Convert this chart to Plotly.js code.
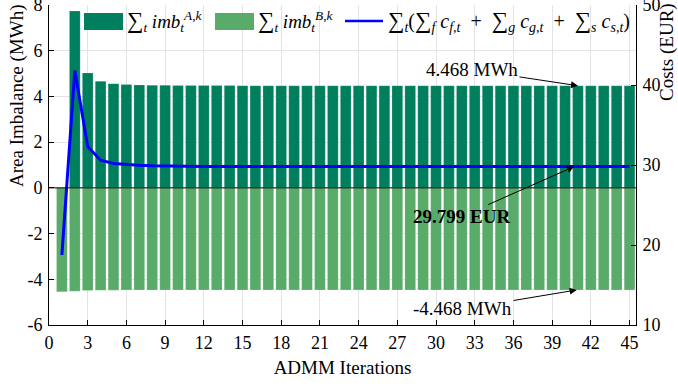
<!DOCTYPE html>
<html>
<head>
<meta charset="utf-8">
<script src="https://cdn.plot.ly/plotly-3.0.1.min.js"></script>
<style>html,body{margin:0;padding:0;background:#fff;}#chart{width:678px;height:387px;}</style>
</head>
<body>
<div id="chart"></div>
<script>
// ---- data ----
const iterations = [1,2,3,4,5,6,7,8,9,10,11,12,13,14,15,16,17,18,19,20,21,22,23,24,25,26,27,28,29,30,31,32,33,34,35,36,37,38,39,40,41,42,43,44,45];
const imbA = [0, 7.74, 5.03, 4.66, 4.56, 4.52, 4.50, 4.49, 4.485, 4.481, 4.478, 4.476, 4.474, 4.473, 4.472, 4.471, 4.470, 4.470, 4.469, 4.469, 4.469, 4.468, 4.468, 4.468, 4.468, 4.468, 4.468, 4.468, 4.468, 4.468, 4.468, 4.468, 4.468, 4.468, 4.468, 4.468, 4.468, 4.468, 4.468, 4.468, 4.468, 4.468, 4.468, 4.468, 4.468];
const imbB = [-4.55, -4.52, -4.49, -4.48, -4.475, -4.472, -4.470, -4.470, -4.469, -4.469, -4.469, -4.468, -4.468, -4.468, -4.468, -4.468, -4.468, -4.468, -4.468, -4.468, -4.468, -4.468, -4.468, -4.468, -4.468, -4.468, -4.468, -4.468, -4.468, -4.468, -4.468, -4.468, -4.468, -4.468, -4.468, -4.468, -4.468, -4.468, -4.468, -4.468, -4.468, -4.468, -4.468, -4.468, -4.468];
const costs = [18.75, 41.8, 32.3, 30.6, 30.2, 30.04, 29.96, 29.9, 29.86, 29.84, 29.82, 29.81, 29.81, 29.80, 29.80, 29.80, 29.80, 29.80, 29.80, 29.80, 29.80, 29.80, 29.80, 29.799, 29.799, 29.799, 29.799, 29.799, 29.799, 29.799, 29.799, 29.799, 29.799, 29.799, 29.799, 29.799, 29.799, 29.799, 29.799, 29.799, 29.799, 29.799, 29.799, 29.799, 29.799];
const xTickVals = [0,3,6,9,12,15,18,21,24,27,30,33,36,39,42,45];
const yTickVals = [-6,-4,-2,0,2,4,6,8];
const yTickText = ['-6','-4','-2','0','2','4','6','8'];
const y2TickVals = [10,20,30,40,50];
const S = '<span style="font-size:23px">∑</span>';
const NB = '\u00A0';
const legendNames = [
  S + '<sub><i>t</i></sub> <i>imb</i><sub><i>t</i></sub><sup><i>A</i>,<i>k</i></sup>',
  S + '<sub><i>t</i></sub> <i>imb</i><sub><i>t</i></sub><sup><i>B</i>,<i>k</i></sup>',
  S + '<sub><i>t</i></sub>(' + S + '<sub><i>f</i></sub> <i>c</i><sub><i>f,t</i></sub>' + NB + ' +' + NB + ' ' + S + '<sub><i>g</i></sub> <i>c</i><sub><i>g,t</i></sub>' + NB + ' +' + NB + ' ' + S + '<sub><i>s</i></sub> <i>c</i><sub><i>s,t</i></sub>)'
];
const annoPoint = {iter: 41, imbA: 4.468, imbB: -4.468, cost: 29.799};

// ---- style ----
const FONT = 'Liberation Serif, Times New Roman, Times, serif';
const cA = '#007F5F', cB = '#58AB69', cLine = '#0000FF';

const traces = [
  {type:'bar', x: iterations, y: imbA, name: legendNames[0], marker:{color:cA, line:{color:'rgba(255,255,255,0.35)', width:0.5}}, width:0.83, showlegend:false},
  {type:'bar', x: iterations, y: imbB, name: legendNames[1], marker:{color:cB, line:{color:'rgba(255,255,255,0.35)', width:0.5}}, width:0.83, showlegend:false},
  {type:'scatter', mode:'lines', x: iterations, y: costs, yaxis:'y2', name: legendNames[2], line:{color:cLine, width:3}, showlegend:false}
];

// custom legend (paper coordinates)
const pw = 587, ph = 320;
function px(x){return (x-49)/pw;}
function py(y){return (325-y)/ph;}

const layout = {
  width:678, height:387,
  margin:{l:49, r:42, t:5, b:62, pad:0},
  paper_bgcolor:'#fff', plot_bgcolor:'#fff',
  font:{family:FONT, size:17, color:'#000'},
  barmode:'overlay',
  showlegend:false,
  xaxis:{
    range:[0,45.5], tickvals:xTickVals, ticks:'inside', ticklen:5, tickcolor:'#000',
    showline:true, linecolor:'#000', linewidth:1,
    showgrid:true, gridcolor:'#e3e3e3', gridwidth:1, zeroline:false,
    tickfont:{family:FONT, size:18, color:'#000'}, ticklabelstandoff:1, ticklabeloverflow:'allow',
    title:{text:'ADMM Iterations', font:{family:FONT, size:19, color:'#000'}, standoff:9}
  },
  yaxis:{
    range:[-6,8], tickvals:yTickVals, ticktext:yTickText, ticks:'inside', ticklen:5, tickcolor:'#000',
    showline:true, linecolor:'#000', linewidth:1,
    showgrid:true, gridcolor:'#e3e3e3', gridwidth:1, zeroline:false,
    tickfont:{family:FONT, size:18, color:'#000'}, ticklabeloverflow:'allow', ticklabelstandoff:2
  },
  yaxis2:{
    range:[10,50], tickvals:y2TickVals, overlaying:'y', side:'right', ticks:'inside', ticklen:5, tickcolor:'#000',
    showline:true, linecolor:'#000', linewidth:1, showgrid:false, zeroline:false,
    tickfont:{family:FONT, size:18, color:'#000'}, ticklabeloverflow:'allow', ticklabelstandoff:2
  },
  shapes:[
    {type:'line', xref:'paper', x0:0, x1:1, yref:'y', y0:0, y1:0, line:{color:'#000', width:1}, layer:'above'},
    {type:'rect', xref:'paper', yref:'paper', x0:px(84), x1:px(123), y0:py(30), y1:py(13), fillcolor:cA, line:{width:0}},
    {type:'rect', xref:'paper', yref:'paper', x0:px(215), x1:px(254), y0:py(30), y1:py(13), fillcolor:cB, line:{width:0}},
    {type:'line', xref:'paper', yref:'paper', x0:px(345), x1:px(383), y0:py(21), y1:py(21), line:{color:cLine, width:2.5}}
  ],
  annotations:[
    {xref:'paper', yref:'paper', x:px(125), y:py(21), xanchor:'left', yanchor:'middle', text:legendNames[0], showarrow:false, font:{family:FONT, size:19}},
    {xref:'paper', yref:'paper', x:px(256), y:py(21), xanchor:'left', yanchor:'middle', text:legendNames[1], showarrow:false, font:{family:FONT, size:19}},
    {xref:'paper', yref:'paper', x:px(386), y:py(21), xanchor:'left', yanchor:'middle', text:legendNames[2], showarrow:false, font:{family:FONT, size:20}},
    {xref:'paper', yref:'paper', x:px(17), y:py(96), text:'Area Imbalance (MWh)', textangle:-90, showarrow:false, font:{family:FONT, size:19}, xanchor:'center', yanchor:'middle'},
    {xref:'paper', yref:'paper', x:px(667), y:py(52), text:'Costs (EUR)', textangle:-90, showarrow:false, font:{family:FONT, size:19}, xanchor:'center', yanchor:'middle'},
    {x:annoPoint.iter, y:annoPoint.imbA, xref:'x', yref:'y', text:'4.468 MWh', showarrow:true, arrowhead:2, arrowsize:1.4, arrowwidth:1, arrowcolor:'#000', axref:'pixel', ayref:'pixel', ax:-106, ay:-16, font:{family:FONT, size:19}},
    {x:annoPoint.iter-0.3, y:annoPoint.cost, xref:'x', yref:'y2', text:'<b>29.799 EUR</b>', showarrow:true, arrowhead:2, arrowsize:1.4, arrowwidth:1, arrowcolor:'#000', axref:'pixel', ayref:'pixel', ax:-113, ay:50, font:{family:FONT, size:19}},
    {x:annoPoint.iter-0.1, y:annoPoint.imbB, xref:'x', yref:'y', text:'-4.468 MWh', showarrow:true, arrowhead:2, arrowsize:1.4, arrowwidth:1, arrowcolor:'#000', axref:'pixel', ayref:'pixel', ax:-114, ay:19, font:{family:FONT, size:19}}
  ]
};

Plotly.newPlot('chart', traces, layout, {displayModeBar:false, staticPlot:true});
</script>
</body>
</html>
